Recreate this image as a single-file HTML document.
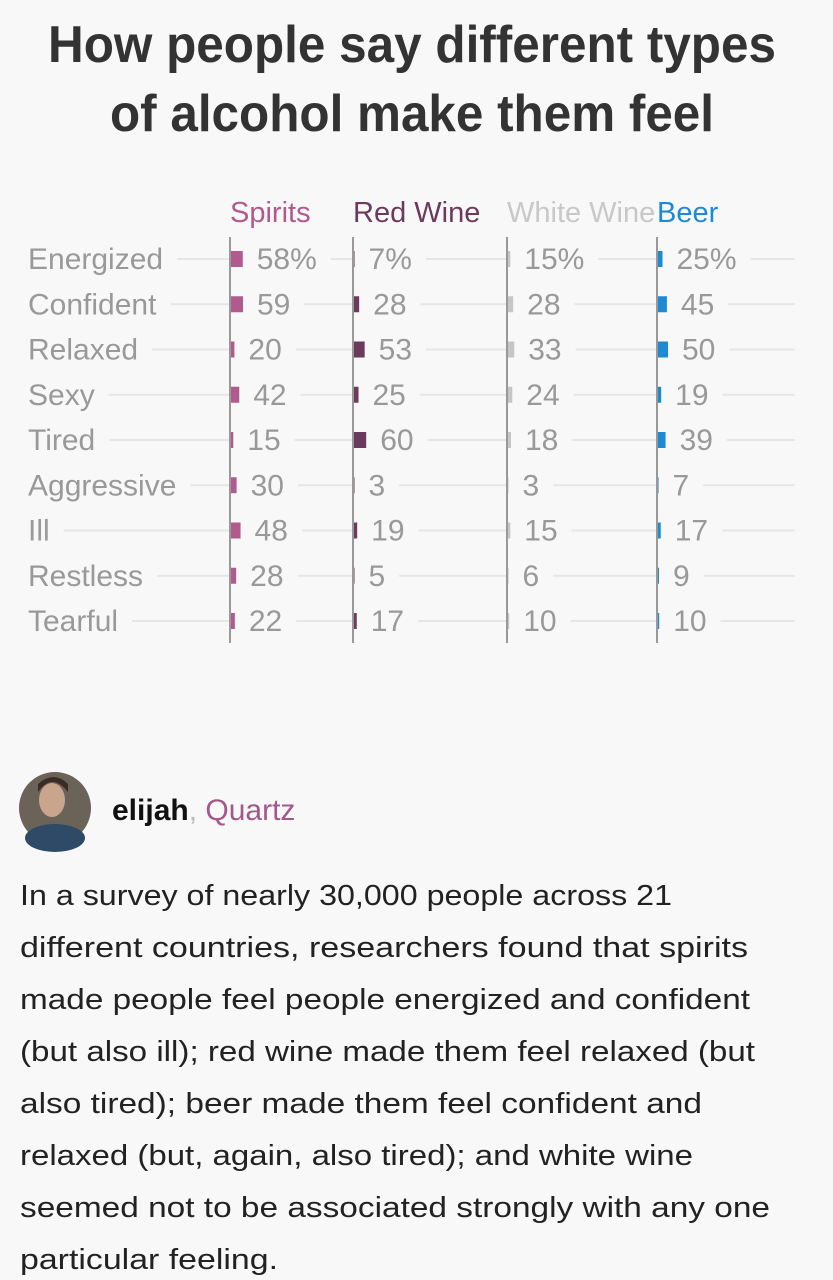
<!DOCTYPE html>
<html><head><meta charset="utf-8"><style>
html,body{margin:0;padding:0;background:#f8f8f8;width:833px;height:1280px;overflow:hidden}
svg{display:block}
</style></head><body>
<svg id="root" width="833" height="1280" xmlns="http://www.w3.org/2000/svg" font-family="Liberation Sans, sans-serif">
<rect width="833" height="1280" fill="#f8f8f8"/>
<g font-family="Liberation Sans Narrow, Liberation Sans, sans-serif" font-weight="bold" fill="#333" font-size="52">
<text x="48" y="62" textLength="728" lengthAdjust="spacingAndGlyphs">How people say different types</text>
<text x="110" y="131" textLength="604" lengthAdjust="spacingAndGlyphs">of alcohol make them feel</text>
</g>
<g id="chart"></g>
<g>
<circle cx="55" cy="808" r="36" fill="#6b6258"/>
<ellipse cx="55" cy="838" rx="30" ry="14" fill="#2e4a66"/>
<ellipse cx="52" cy="800" rx="13" ry="17" fill="#c9a58e"/>
<path d="M38 792 q14 -20 30 0 l0 -8 q-14 -14 -30 0z" fill="#3a2c24"/>
<text x="112" y="820" font-size="30" font-weight="bold" fill="#111">elijah<tspan fill="#bbb" font-weight="normal">,</tspan> <tspan fill="#a3588a" font-weight="normal">Quartz</tspan></text>
</g>
<g font-size="29" fill="#222">
<text x="20" y="905" textLength="652" lengthAdjust="spacingAndGlyphs">In a survey of nearly 30,000 people across 21</text>
<text x="20" y="957" textLength="728" lengthAdjust="spacingAndGlyphs">different countries, researchers found that spirits</text>
<text x="20" y="1009" textLength="730" lengthAdjust="spacingAndGlyphs">made people feel people energized and confident</text>
<text x="20" y="1061" textLength="735" lengthAdjust="spacingAndGlyphs">(but also ill); red wine made them feel relaxed (but</text>
<text x="20" y="1113" textLength="682" lengthAdjust="spacingAndGlyphs">also tired); beer made them feel confident and</text>
<text x="20" y="1165" textLength="673" lengthAdjust="spacingAndGlyphs">relaxed (but, again, also tired); and white wine</text>
<text x="20" y="1217" textLength="750" lengthAdjust="spacingAndGlyphs">seemed not to be associated strongly with any one</text>
<text x="20" y="1269" textLength="258" lengthAdjust="spacingAndGlyphs">particular feeling.</text>
</g>
</svg>
<script>
const categories=["Energized","Confident","Relaxed","Sexy","Tired","Aggressive","Ill","Restless","Tearful"];
const seriesNames=["Spirits","Red Wine","White Wine","Beer"];
const spirits=[58,59,20,42,15,30,48,28,22];
const redWine=[7,28,53,25,60,3,19,5,17];
const whiteWine=[15,28,33,24,18,3,15,6,10];
const beer=[25,45,50,19,39,7,17,9,10];
const series=[spirits,redWine,whiteWine,beer];
const colors=["#b05a8e","#6b3a5c","#c6c6c6","#1f8ad4"];
const headColors=["#b05a8e","#6b3a5c","#c8c8c8","#1f8ad4"];
const NS="http://www.w3.org/2000/svg";
const g=document.getElementById('chart');
const colX=[230,353,507,657];
const rowY=i=>259+i*45.25;
const xs=v=>v*0.22;
function mk(t,a,p){const e=document.createElementNS(NS,t);for(const k in a)e.setAttribute(k,a[k]);(p||g).appendChild(e);return e;}
const bg="#f8f8f8";
// gridlines
categories.forEach((c,i)=>{
 const l=mk('line',{x1:0,x2:795,y1:rowY(i),y2:rowY(i),stroke:'#e6e6e6','stroke-width':2});
 
 
});
// row labels
categories.forEach((c,i)=>{
 const t=mk('text',{x:28,y:rowY(i)+10,'font-size':30,fill:'#999'});
 t.textContent=c;
 const w=t.getComputedTextLength();
 const r=mk('rect',{x:0,y:rowY(i)-12,width:28+w+14,height:24,fill:bg});
 g.insertBefore(r,t);
 
 
});
series.forEach((s,j)=>{
 const x0=colX[j];
 const h=mk('text',{x:x0,y:222,'font-size':29,fill:headColors[j]});
 h.textContent=seriesNames[j];
 
 
 s.forEach((v,i)=>{
  const y=rowY(i);
  const w=Math.max(xs(v),1.5);
  const lbl=(i===0?v+'%':String(v));
  const tx=x0+w+14;
  const t=mk('text',{x:tx,y:y+10,'font-size':30,fill:'#999'});
  t.textContent=lbl;
  const tw=t.getComputedTextLength();
  const r=mk('rect',{x:x0,y:y-12,width:tw+w+14+14,height:24,fill:bg});
  g.insertBefore(r,t);
  const b=mk('rect',{x:x0,y:y-8,width:w,height:16,fill:colors[j]});
  
  
  
  
 });
 const ax=mk('line',{x1:x0,x2:x0,y1:237,y2:643,stroke:'#999','stroke-width':2});
 
 
});
</script>
</body></html>
